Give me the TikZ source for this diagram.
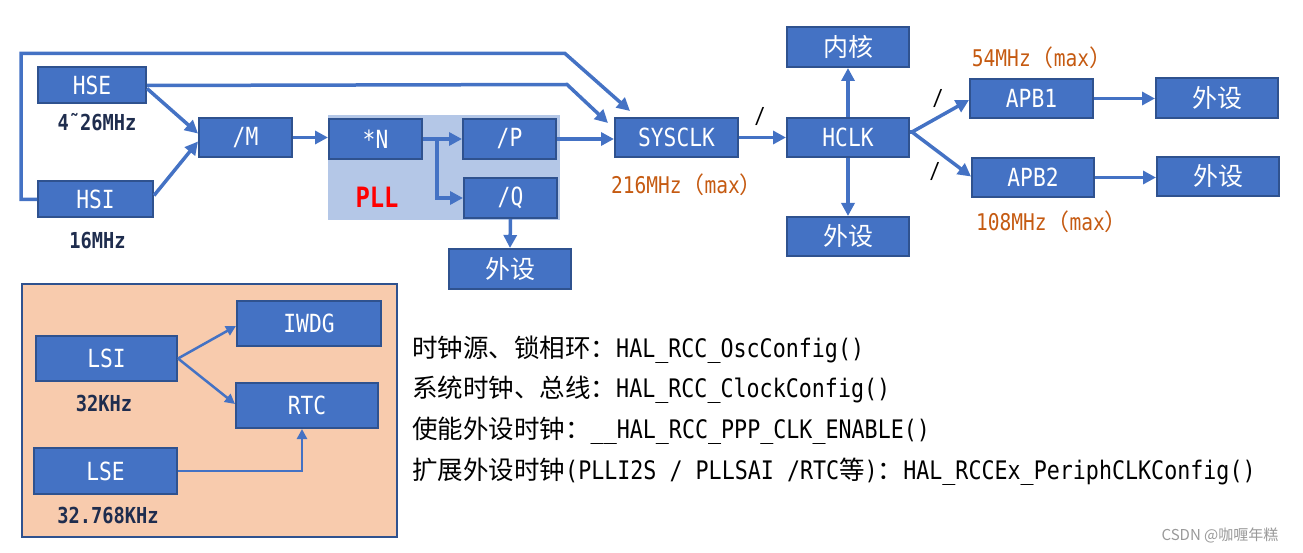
\documentclass[tikz,border=0pt]{standalone}
\usepackage{fontspec}
\setmainfont{DejaVu Sans Mono}[FakeStretch=0.85]
\newfontfamily\cjk{Noto Sans CJK SC}
\usepackage{tikz}
\usetikzlibrary{arrows.meta,calc}
\definecolor{boxblue}{HTML}{4472C4}
\definecolor{boxline}{HTML}{2F528F}
\definecolor{pllbg}{HTML}{B4C7E7}
\definecolor{peach}{HTML}{F8CBAD}
\definecolor{navy}{HTML}{1F2D4E}
\definecolor{freqorange}{HTML}{C55A11}
\tikzstyle{blk}=[rectangle, fill=boxblue, draw=boxline, line width=2pt, text=white, inner sep=0pt, font=\fontsize{25}{29}\selectfont]
\tikzstyle{conn}=[draw=boxblue, line width=3.5pt, -{Triangle[length=13pt,width=13pt]}]
\tikzstyle{line}=[draw=boxblue, line width=3.5pt]
\tikzstyle{freq}=[text=navy, font=\fontsize{22}{26}\selectfont\bfseries, inner sep=0pt]
\tikzstyle{maxf}=[text=freqorange, font=\fontsize{23}{27}\selectfont, inner sep=0pt]
\tikzstyle{cfgtext}=[anchor=west, inner sep=0pt, font=\fontsize{25.5}{30}\selectfont]
\tikzstyle{slash}=[inner sep=0pt, font=\fontsize{22}{26}\selectfont]

\begin{document}
\begin{tikzpicture}[x=1pt,y=-1pt]
\useasboundingbox (0,0) rectangle (1303,553);
\fill[pllbg] (328,115) rectangle (560,220);
\draw[fill=peach, draw=boxline, line width=2pt] (22,284) rectangle (397,537);

\node[blk, minimum width=108pt, minimum height=36pt] (hse) at (92,85.5) {HSE};
\node[blk, minimum width=115pt, minimum height=36pt] (hsi) at (95.5,199.5) {HSI};
\node[blk, minimum width=93pt, minimum height=39pt] (divm) at (245.5,137.5) {/M};
\node[blk, minimum width=93pt, minimum height=40pt] (muln) at (375.5,139) {*N};
\node[blk, minimum width=93pt, minimum height=40pt] (divp) at (509.5,139) {/P};
\node[blk, minimum width=93pt, minimum height=40pt] (divq) at (510.5,198) {/Q};
\node[blk, minimum width=122pt, minimum height=40pt] (pllper) at (510,269) {{\cjk 外设}};
\node[blk, minimum width=123pt, minimum height=39pt] (sysclk) at (676.5,137.5) {SYSCLK};
\node[blk, minimum width=122pt, minimum height=39pt] (hclk) at (848,137.5) {HCLK};
\node[blk, minimum width=122pt, minimum height=40pt] (core) at (848,47) {{\cjk 内核}};
\node[blk, minimum width=122pt, minimum height=39pt] (hper) at (848,236.5) {{\cjk 外设}};
\node[blk, minimum width=123pt, minimum height=39pt] (apbone) at (1031.5,98.5) {APB1};
\node[blk, minimum width=122pt, minimum height=39pt] (apbtwo) at (1033,177.5) {APB2};
\node[blk, minimum width=122pt, minimum height=40pt] (perone) at (1217,98) {{\cjk 外设}};
\node[blk, minimum width=122pt, minimum height=39pt] (pertwo) at (1218,176.5) {{\cjk 外设}};
\node[blk, minimum width=141pt, minimum height=45pt] (lsi) at (106.5,358.5) {LSI};
\node[blk, minimum width=144pt, minimum height=45pt] (iwdg) at (309,323.5) {IWDG};
\node[blk, minimum width=142pt, minimum height=45pt] (rtc) at (307,405.5) {RTC};
\node[blk, minimum width=143pt, minimum height=46pt] (lse) at (105.5,471) {LSE};

\node[freq] (fhse) at (97,122) {4˜26MHz};
\node[freq] (fhsi) at (97.5,241) {16MHz};
\node[freq] (flsi) at (104,403) {32KHz};
\node[freq] (flse) at (108,515) {32.768KHz};
\node[maxf] (fsys) at (687,185) {216MHz{\cjk （}max{\cjk ）}};
\node[maxf] (fapbone) at (1042,58) {54MHz{\cjk （}max{\cjk ）}};
\node[maxf] (fapbtwo) at (1052,222) {108MHz{\cjk （}max{\cjk ）}};
\node[text=red, inner sep=0pt, font=\fontsize{28}{32}\selectfont\bfseries] (pll) at (377,197) {PLL};

\node[slash] (sla) at (760,117) {/};
\node[slash] (slb) at (938,99) {/};
\node[slash] (slc) at (935,172) {/};

% sources to SYSCLK
\coordinate (loopa) at (21,199.5);
\coordinate (loopb) at (21,53.5);
\coordinate (loopc) at (565,53.5);
\coordinate (loopd) at (630,111);
\coordinate (hsea) at (567,84.5);
\coordinate (hseb) at (608,123);
\draw[conn] (hsi.west) -- (loopa) -- (loopb) -- (loopc) -- (loopd);
\draw[conn] (hse.east) -- (hsea) -- (hseb);
\draw[conn] ($(hse.east)+(0,3)$) -- ($(divm.west)+(0,-4)$);
\draw[conn] ($(hsi.east)+(0,-4)$) -- ($(divm.west)+(0,4)$);
\draw[conn] (divm.east) -- (muln.west |- divm.east);

% PLL
\coordinate (split) at (437,139);
\draw[conn] (muln.east) -- (divp.west);
\draw[conn] (split) |- (divq.west);
\draw[conn] (divq.south) -- (pllper.north);
\draw[conn] (divp.east) -- (sysclk.west |- divp.east);

% AHB / APB
\draw[conn] (sysclk.east) -- (hclk.west);
\draw[conn] (hclk.north) -- (core.south);
\draw[conn] (hclk.south) -- (hper.north);
\coordinate (fork) at (912,132);
\draw[line] (hclk.east |- fork) -- (fork);
\draw[conn] (fork) -- ($(apbone.west)+(0,1.5)$);
\draw[conn] (fork) -- ($(apbtwo.west)+(0,-1)$);
\draw[conn] (apbone.east) -- (perone.west |- apbone.east);
\draw[conn] (apbtwo.east) -- (pertwo.west |- apbtwo.east);

% low speed
\draw[conn, line width=2.5pt, -{Triangle[length=10pt,width=10pt]}] (lsi.east) -- ($(iwdg.west)+(0,2.5)$);
\draw[conn, line width=2.5pt, -{Triangle[length=10pt,width=10pt]}] (lsi.east) -- ($(rtc.west)+(0,-1.5)$);
\draw[conn, line width=2.5pt, -{Triangle[length=10pt,width=10pt]}] (lse.east) -| ($(rtc.south)+(-5,0)$);

\node[cfgtext] (cfga) at (412,350) {{\cjk 时钟源、锁相环：}HAL\_RCC\_OscConfig()};
\node[cfgtext] (cfgb) at (412,390) {{\cjk 系统时钟、总线：}HAL\_RCC\_ClockConfig()};
\node[cfgtext] (cfgc) at (412,431) {{\cjk 使能外设时钟：}\_\_HAL\_RCC\_PPP\_CLK\_ENABLE()};
\node[cfgtext] (cfgd) at (412,472) {{\cjk 扩展外设时钟}(PLLI2S / PLLSAI /RTC{\cjk 等}){\cjk ：}HAL\_RCCEx\_PeriphCLKConfig()};

\node[text=black!40, inner sep=0pt, font=\cjk\fontsize{15}{18}\selectfont] (mark) at (1220,535) {CSDN @咖喱年糕};
\end{tikzpicture}
\end{document}
